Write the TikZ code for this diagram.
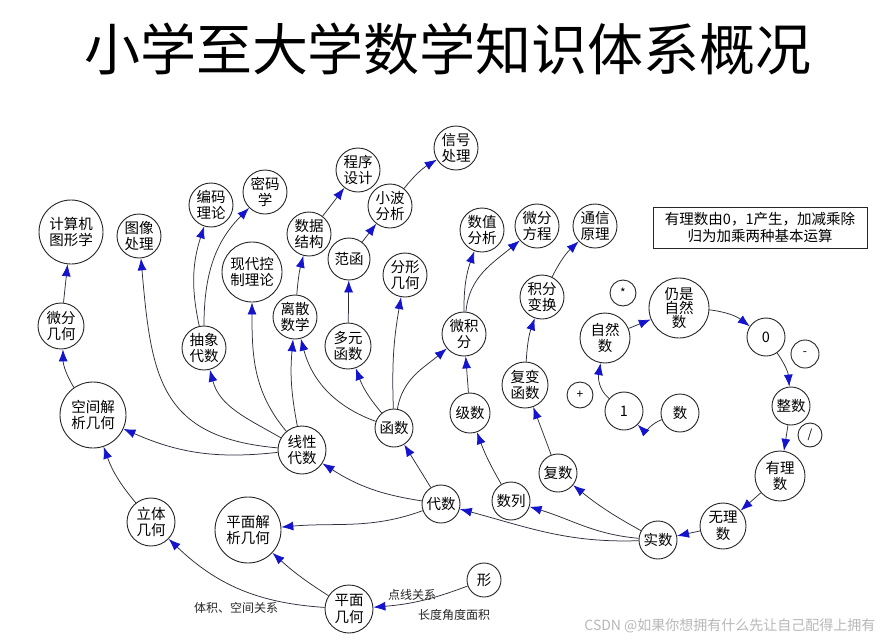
\documentclass[tikz,border=0pt]{standalone}
\usepackage{fontspec}
\setmainfont{Noto Sans CJK SC}
\usetikzlibrary{arrows.meta}
\definecolor{arrowblue}{RGB}{20,20,205}
\definecolor{edgecol}{RGB}{45,45,60}
\newcommand\ndfont{\fontsize{14.5}{16.5}\selectfont}
\newcommand\smfont{\fontsize{12}{13}\selectfont}
\begin{document}
\begin{tikzpicture}[x=1pt,y=1pt,
  nd/.style={circle, draw=black!85, line width=0.9pt, fill=white, inner sep=0pt, align=center, font=\ndfont},
  sym/.style={nd, font=\smfont},
  e/.style={draw=edgecol, line width=0.75pt, -{Latex[length=12pt,width=9pt,color=arrowblue]}},
  lbl/.style={font=\smfont, text=black!85, inner sep=1pt}]
\useasboundingbox (0,0) rectangle (884,-643);
\fill[white] (0,0) rectangle (884,-643);
% title
\node[font=\fontsize{56}{60}\selectfont] (title) at (448,-49) {小学至大学数学知识体系概况};
% nodes
\node[nd,minimum size=64] (cg) at (71,-232) {计算机\\图形学};
\node[nd,minimum size=44] (tx) at (139,-236) {图像\\处理};
\node[nd,minimum size=44] (bm) at (211,-205) {编码\\理论};
\node[nd,minimum size=44] (mm) at (265,-192) {密码\\学};
\node[nd,minimum size=60] (xd) at (252,-272) {现代控\\制理论};
\node[nd,minimum size=46] (wf) at (61,-326) {微分\\几何};
\node[nd,minimum size=44] (cx) at (204,-348) {抽象\\代数};
\node[nd,minimum size=44] (ls) at (295,-317) {离散\\数学};
\node[nd,minimum size=44] (sj) at (309,-234) {数据\\结构};
\node[nd,minimum size=44] (cs) at (358,-170) {程序\\设计};
\node[nd,minimum size=44] (xb) at (390,-206) {小波\\分析};
\node[nd,minimum size=44] (xh) at (456,-148) {信号\\处理};
\node[nd,minimum size=42] (fh) at (349,-259) {范函};
\node[nd,minimum size=44] (fx) at (405,-275) {分形\\几何};
\node[nd,minimum size=46] (dy) at (348,-346) {多元\\函数};
\node[nd,minimum size=44] (sz) at (482,-230) {数值\\分析};
\node[nd,minimum size=44] (wfc) at (537,-226) {微分\\方程};
\node[nd,minimum size=44] (tx2) at (595,-226) {通信\\原理};
\node[nd,minimum size=44] (jf) at (542,-297) {积分\\变换};
\node[nd,minimum size=44] (wjf) at (464,-334) {微积\\分};
\node[nd,minimum size=46] (fb) at (525,-385) {复变\\函数};
\node[nd,minimum size=40] (js) at (470,-413) {级数};
\node[nd,minimum size=50] (zr) at (605,-338) {自然\\数};
\node[nd,minimum size=60,font=\fontsize{14.5}{14}\selectfont] (rs) at (679,-308) {仍是\\自然\\数};
\node[sym,minimum size=26] (star) at (623,-293) {*};
\node[nd,minimum size=38] (zero) at (766,-337) {0};
\node[sym,minimum size=28] (minus) at (805,-354) {-};
\node[nd,minimum size=38] (zs) at (791,-406) {整数};
\node[sym,minimum size=24] (dv) at (810,-435) {/};
\node[nd,minimum size=50] (yl) at (780,-476) {有理\\数};
\node[nd,minimum size=46] (wl) at (723,-526) {无理\\数};
\node[nd,minimum size=38] (ss) at (658,-540) {实数};
\node[nd,minimum size=38] (shu) at (680,-413) {数};
\node[nd,minimum size=38] (one) at (624,-411) {1};
\node[sym,minimum size=26] (plus) at (580,-395) {+};
\node[nd,minimum size=66] (kj) at (93,-415) {空间解\\析几何};
\node[nd,minimum size=48] (xx) at (302,-450) {线性\\代数};
\node[nd,minimum size=38] (hs) at (394,-428) {函数};
\node[nd,minimum size=48] (lt) at (151,-522) {立体\\几何};
\node[nd,minimum size=66] (pj) at (248,-530) {平面解\\析几何};
\node[nd,minimum size=38] (ds) at (441,-504) {代数};
\node[nd,minimum size=38] (sl) at (511,-501) {数列};
\node[nd,minimum size=38] (fs) at (558,-473) {复数};
\node[nd,minimum size=48] (pm) at (349,-609) {平面\\几何};
\node[nd,minimum size=34] (xing) at (484,-580) {形};
% note box
\node[draw=black!85, line width=1pt, minimum width=214, minimum height=41, align=center, font=\ndfont, inner sep=2pt] (note) at (760,-227.5) {有理数由0，1产生，加减乘除\\归为加乘两种基本运算};
% labels
\node[lbl] (l1) at (412,-595) {点线关系};
\node[lbl] (l2) at (454,-615) {长度角度面积};
\node[lbl] (l3) at (236,-608) {体积、空间关系};
% watermark
\node[font=\fontsize{14}{15}\selectfont, text=black!28, anchor=east] (wm) at (879,-626) {CSDN @如果你想拥有什么先让自己配得上拥有};
% edges: geometry
\draw[e] (wf) -- (cg);
\draw[e] (kj) to[bend left=15] (wf);
\draw[e] (lt) to[bend left=10] (kj);
\draw[e] (pm) to[bend left=20] (lt);
\draw[e] (pm) to[bend left=5] (pj);
\draw[e] (xing) to[bend left=8] (pm);
% linear algebra
\draw[e] (xx) to[bend left=15] (kj);
\draw[e] (xx) to[out=175,in=-85,looseness=1.3] (tx);
\draw[e] (xx) to[out=150,in=-75] (cx);
\draw[e] (xx) to[out=130,in=-90] (xd);
\draw[e] (xx) to[bend left=8] (ls);
% functions
\draw[e] (hs) to[out=160,in=-75] (ls);
\draw[e] (hs) to[bend left=10] (dy);
\draw[e] (hs) to[bend left=6] (fx);
\draw[e] (hs) to[out=80,in=-140] (wjf);
% algebra
\draw[e] (ds) -- (hs);
\draw[e] (ds) to[bend left=12] (xx);
\draw[e] (ds) to[out=200,in=5] (pj);
% reals
\draw[e] (ss) to[out=182,in=-15] (ds);
\draw[e] (ss) to[out=175,in=-17] (sl);
\draw[e] (ss) to[bend left=5] (fs);
\draw[e] (wl) -- (ss);
\draw[e] (yl) -- (wl);
\draw[e] (zs) -- (yl);
\draw[e] (zero) to[bend left=15] (zs);
\draw[e] (rs) to[bend left=15] (zero);
\draw[e] (zr) -- (rs);
\draw[e] (one) to[out=140,in=-100] (zr);
\draw[e] (shu) to[out=-160,in=-45] (one);
% upper chains
\draw[e] (sl) to[bend left=5] (js);
\draw[e] (js) -- (wjf);
\draw[e] (wjf) to[bend left=10] (sz);
\draw[e] (wjf) to[out=85,in=-140] (wfc);
\draw[e] (fs) -- (fb);
\draw[e] (fb) to[bend left=8] (jf);
\draw[e] (jf) to[bend left=10] (tx2);
\draw[e] (ls) to[bend left=5] (sj);
\draw[e] (sj) -- (cs);
\draw[e] (dy) -- (fh);
\draw[e] (fh) -- (xb);
\draw[e] (xb) to[bend left=10] (xh);
\draw[e] (cx) to[bend left=15] (bm);
\draw[e] (cx) to[out=90,in=-135] (mm);
\end{tikzpicture}
\end{document}
